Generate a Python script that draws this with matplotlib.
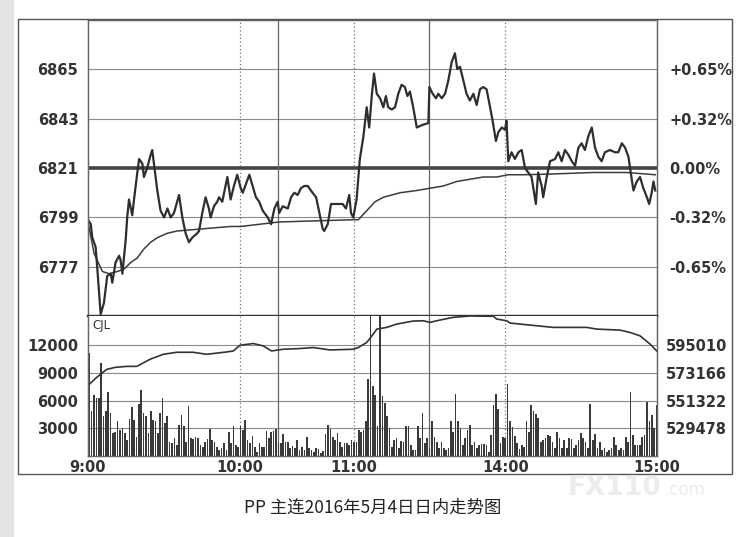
import numpy as np
import matplotlib.pyplot as plt
from matplotlib.patches import Rectangle

plt.rcParams['font.family'] = ['DejaVu Sans']

# trading clock in minutes from 9:00 (9:00-10:15, 10:30-11:30, 13:30-15:00)
price_t = [0, 1.1, 1.7, 3.0, 3.7, 5.0, 6.3, 7.6, 9.0, 9.6, 10.9, 12.3, 12.9, 13.6, 14.9,
           15.5, 16.2, 17.5, 18.2, 19.5, 20.2, 21.5, 22.1, 23.4, 24.8, 25.4, 26.4, 27.4,
           28.7, 30.1, 31.4, 32.7, 34.0, 36.0, 37.3, 38.6, 39.9, 41.2, 43.2, 43.9, 45.2,
           46.5, 47.8, 48.5, 49.8, 51.1, 51.8, 53.1, 55.1, 56.4, 57.7, 59.0, 60.4, 61.2,
           62.5, 63.8, 65.1, 66.4, 67.7, 69.1, 71.1, 72.4, 73.7, 75.0, 75.6, 77.0, 79.0,
           80.3, 81.6, 82.9, 84.2, 85.5, 86.9, 88.8, 90.2, 91.5, 92.8, 93.4, 94.8, 96.1,
           97.4, 99.4, 100.7, 102.0, 103.3, 104.0, 104.9, 106.2, 107.5, 108.9, 110.2, 111.2,
           112.2, 113.1, 114.2, 115.5, 116.8, 117.8, 118.7, 120.1, 121.4, 122.7, 124.0,
           125.3, 126.3, 127.3, 128.6, 130.0, 131.9, 134.6, 135.0, 136.3, 137.6, 138.5,
           139.9, 141.2, 142.5, 143.8, 145.1, 146.0, 147.1, 148.4, 149.7, 151.0, 152.4,
           153.7, 155.0, 156.3, 157.6, 159.0, 160.0, 161.3, 162.3, 163.6, 164.9, 165.5,
           166.2, 167.5, 168.8, 170.2, 171.5, 172.8, 174.1, 175.4, 177.1, 178.0, 179.4,
           180.0, 181.4, 182.7, 184.7, 186.0, 187.3, 188.6, 189.9, 191.3, 192.6, 193.9,
           195.2, 196.5, 197.8, 199.2, 200.5, 201.8, 203.1, 204.4, 206.4, 208.4, 209.7,
           211.1, 212.4, 213.7, 215.0, 215.7, 217.0, 218.3, 219.6, 221.0, 221.9, 222.9,
           223.6, 224.3]
price_v = [6798, 6796, 6790, 6786, 6776, 6756, 6761, 6773, 6774, 6770, 6779, 6782, 6780,
           6774, 6789, 6799, 6807, 6800, 6807, 6819, 6825, 6823, 6817, 6821, 6827, 6829,
           6820, 6811, 6802, 6799, 6803, 6799, 6801, 6809, 6799, 6792, 6788, 6790, 6792,
           6793, 6801, 6808, 6803, 6799, 6804, 6806, 6808, 6806, 6817, 6807, 6813, 6818,
           6812, 6810, 6814, 6818, 6813, 6808, 6806, 6802, 6799, 6796, 6803, 6806, 6801,
           6804, 6803, 6808, 6810, 6809, 6812, 6813, 6813, 6810, 6808, 6801, 6794, 6793,
           6796, 6805, 6805, 6805, 6805, 6803, 6809, 6801, 6799, 6807, 6825, 6835, 6848,
           6839, 6853, 6863, 6854, 6852, 6848, 6853, 6848, 6847, 6848, 6854, 6858, 6857,
           6853, 6855, 6848, 6839, 6840, 6841, 6857, 6854, 6852, 6854, 6852, 6854, 6860,
           6868, 6872, 6865, 6866, 6860, 6854, 6851, 6854, 6849, 6856, 6857, 6856, 6848,
           6842, 6833, 6837, 6839, 6838, 6842, 6824, 6828, 6825, 6828, 6829, 6821, 6819,
           6817, 6805, 6819, 6813, 6808, 6817, 6824, 6825, 6828, 6824, 6829, 6827, 6824,
           6822, 6830, 6832, 6829, 6835, 6839, 6830, 6826, 6824, 6828, 6829, 6828, 6828,
           6832, 6830, 6826, 6816, 6811, 6815, 6817, 6812, 6808, 6805, 6810, 6815, 6811]

avg_t = [0, 2.4, 5.7, 8.3, 11.6, 14.2, 16.9, 19.5, 22.1, 24.8, 27.4, 31.4, 35.3, 40.6,
         45.9, 51.1, 56.4, 60.4, 75.5, 104.8, 106.9, 110.2, 113.5, 116.8, 123.4, 130.0,
         135.2, 140.5, 145.8, 151.0, 156.3, 161.6, 166.2, 172.0, 182.7, 199.7, 213.0, 224.3]
avg_v = [6797, 6783, 6775, 6774, 6775, 6776, 6779, 6781, 6785, 6788, 6790, 6792, 6793,
         6793.5, 6794, 6794.5, 6795, 6795, 6797, 6798, 6798, 6802, 6806, 6808, 6810, 6811,
         6812, 6813, 6815, 6816, 6817, 6817, 6818, 6818, 6818.3, 6819, 6819, 6818]

prev_settle = 6821
price_ticks = [6777, 6799, 6821, 6843, 6865]
pct_labels = ['-0.65%', '-0.32%', '0.00%', '+0.32%', '+0.65%']

vol = [11200, 4840, 6650, 6290, 6290, 10100, 4290, 4840, 6910, 4660,
       2470, 2650, 3750, 2840, 3020, 2470, 1700, 4040, 5270, 3930,
       2110, 5640, 7200, 4660, 4360, 2470, 4840, 3930, 3820, 2470,
       4660, 6290, 3560, 4360, 1560, 1380, 1930, 1200, 3380, 4470,
       3200, 1560, 5460, 1930, 1820, 2110, 1930, 1200, 1020, 1560,
       1820, 2950, 1750, 1560, 950, 650, 840, 1380, 650, 2650,
       1380, 3200, 1200, 1020, 3200, 2840, 3860, 1750, 1380, 2180,
       1020, 470, 1380, 1020, 1020, 2760, 1930, 2550, 2760, 2910,
       1380, 1380, 2400, 1560, 1560, 840, 1090, 840, 1750, 650,
       1020, 650, 2110, 840, 650, 470, 840, 730, 360, 500,
       2400, 3380, 2910, 2110, 1750, 2470, 1560, 1020, 1380, 1380,
       1200, 1750, 1560, 1560, 2840, 2650, 2840, 3750, 8290, 15165,
       7560, 6650, 3200, 15165, 6470, 5750, 4290, 3020,
       1020, 1750, 1930, 840, 1640, 1560, 3200, 3200, 1200, 650,
       650, 3200, 1930, 4660, 1380, 1930, 840, 3820, 2110, 1560,
       840, 1560, 840, 650, 840, 3750, 2650, 6760, 3820, 3020,
       1200, 1930, 2840, 3380,
       1200, 1560, 840, 1200, 1270, 1270, 1200, 470, 2290, 5490,
       6760, 5130, 1380, 2110, 1930, 7750, 3750, 3130, 2220, 1380,
       760, 1200, 1020, 3820, 2650, 5490, 4840, 4550, 4110, 1560,
       1750, 2000, 2290, 2220, 1560, 910, 2650, 1930, 910, 1750,
       840, 1930, 1860, 840, 1200, 1750, 2470, 1930, 1560, 840,
       5640, 1750, 2360, 840, 1560, 650, 910, 470, 650, 840,
       2110, 1200, 650, 910, 650, 2110, 1560, 6950, 2290, 1200,
       1200, 1200, 2110, 2290, 5860, 3750, 4470, 3020, 5490]
vol_ticks = [3000, 6000, 9000, 12000]

oi_t = [0, 3.4, 7.4, 10.7, 15.3, 19.3, 24.5, 29.8, 35.1, 41.6, 46.9, 54.8, 57.5, 60.1,
        65.4, 69.3, 72.6, 77.2, 83.8, 89.1, 95.7, 104.9, 106.9, 110.2, 112.8, 114.2,
        118.1, 122.1, 128.6, 132.6, 135.2, 139.2, 144.4, 151.0, 160.3, 161.6, 165.5,
        166.9, 174.8, 184.0, 197.2, 201.2, 210.4, 214.3, 218.3, 222.3, 224.9]
oi_v = [563235, 569589, 575944, 577532, 578327, 578327, 583887, 587858, 589447, 589447,
        587858, 589685, 590479, 595007, 596357, 594450, 590479, 591830, 592386, 593180,
        591274, 591830, 593180, 597152, 603744, 607716, 609066, 611687, 614070, 614309,
        613038, 614865, 617010, 618042, 617804, 615659, 614309, 612481, 610893, 609066,
        609066, 607716, 606922, 605095, 602395, 595807, 590479]
oi_ticks = [529478, 551322, 573166, 595010]

time_ticks = [0, 60, 105, 165, 225]
time_labels = ['9:00', '10:00', '11:00', '14:00', '15:00']
session_breaks = [75, 135]

W, H = 750, 537


def box(l, t, r, b):
    return [l / W, 1 - b / H, (r - l) / W, (b - t) / H]


fig = plt.figure(figsize=(7.5, 5.37), dpi=100)
fig.add_artist(Rectangle((0, 0), 14 / W, 1, transform=fig.transFigure,
                         color='#e4e4e4', lw=0))
fig.add_artist(Rectangle((18 / W, 1 - 474 / H), 714 / W, 455 / H, transform=fig.transFigure,
                         fill=False, ec='#555555', lw=1.0))

tick_kw = dict(fontsize=10.5, fontweight='bold', color='#333333')

# price panel
ax1 = fig.add_axes(box(88, 20, 657, 316))
ax1.set_xlim(0, 225)
ax1.set_ylim(6755.2, 6886.8)
for p in price_ticks:
    if p == prev_settle:
        ax1.axhline(p, color='#444444', lw=2.6, zorder=1)
    else:
        ax1.axhline(p, color='#8a8a8a', lw=0.8, zorder=1)
for t in session_breaks:
    ax1.axvline(t, color='#666666', lw=0.9, zorder=1)
for t in time_ticks[1:4]:
    ax1.axvline(t, color='#777777', lw=0.9, ls=(0, (1, 2)), zorder=1)
ax1.plot(avg_t, avg_v, color='#3c3c3c', lw=1.1, zorder=3)
ax1.plot(price_t, price_v, color='#2e2e2e', lw=1.6, zorder=4)
ax1.set_yticks(price_ticks)
ax1.set_yticklabels([str(p) for p in price_ticks], **tick_kw)
ax1.tick_params(axis='y', length=0, pad=7)
ax1.set_xticks([])
ax1r = ax1.twinx()
ax1r.set_ylim(ax1.get_ylim())
ax1r.set_yticks(price_ticks)
ax1r.set_yticklabels(pct_labels, **tick_kw)
ax1r.tick_params(axis='y', length=0, pad=9)
for a in (ax1, ax1r):
    for s in a.spines.values():
        s.set_color('#666666')
        s.set_linewidth(0.9)
    a.spines['bottom'].set_color('#333333')
    a.spines['bottom'].set_linewidth(1.6)

# volume / open interest panel
ax2 = fig.add_axes(box(88, 316, 657, 456))
ax2.set_xlim(0, 225)
ax2.set_ylim(0, 15165)
for v in vol_ticks:
    ax2.axhline(v, color='#8a8a8a', lw=0.8, zorder=1)
for t in session_breaks:
    ax2.axvline(t, color='#666666', lw=0.9, zorder=1)
for t in time_ticks[1:4]:
    ax2.axvline(t, color='#777777', lw=0.9, ls=(0, (1, 2)), zorder=1)
bar_x = np.linspace(0.5, 224.8, len(vol))
ax2.bar(bar_x, vol, width=0.65, color='#3a3a3a', zorder=2)
ax2.set_yticks(vol_ticks)
ax2.set_yticklabels([str(v) for v in vol_ticks], **tick_kw)
ax2.tick_params(axis='y', length=0, pad=7)
ax2.set_xticks(time_ticks)
ax2.set_xticklabels(time_labels, **tick_kw)
ax2.tick_params(axis='x', length=0, pad=3)
ax2.text(0.008, 0.93, 'CJL', transform=ax2.transAxes, fontsize=8.5,
         color='#333333', va='center', ha='left')
ax2r = ax2.twinx()
ax2r.set_ylim(507634, 618054)
ax2r.plot(oi_t, oi_v, color='#333333', lw=1.2)
ax2r.set_yticks(oi_ticks)
ax2r.set_yticklabels([str(v) for v in oi_ticks], **tick_kw)
ax2r.tick_params(axis='y', length=0, pad=6)
for a in (ax2, ax2r):
    for s in a.spines.values():
        s.set_color('#666666')
        s.set_linewidth(0.9)
    a.spines['top'].set_visible(False)

# faint site watermark under the time axis
fig.text(568 / W, 1 - 488 / H, 'FX110', fontsize=19, fontweight='bold',
         color='#ececec', ha='left', va='center')
fig.text(664 / W, 1 - 490 / H, '.com', fontsize=12, color='#ececec',
         ha='left', va='center')

fig.text(373 / W, 1 - 508 / H, 'PP 主连2016年5月4日日内走势图', fontsize=12.5,
         color='#222222', ha='center', va='center',
         family=['Noto Sans CJK SC', 'DejaVu Sans'])

fig.savefig('out.png', dpi=100)
